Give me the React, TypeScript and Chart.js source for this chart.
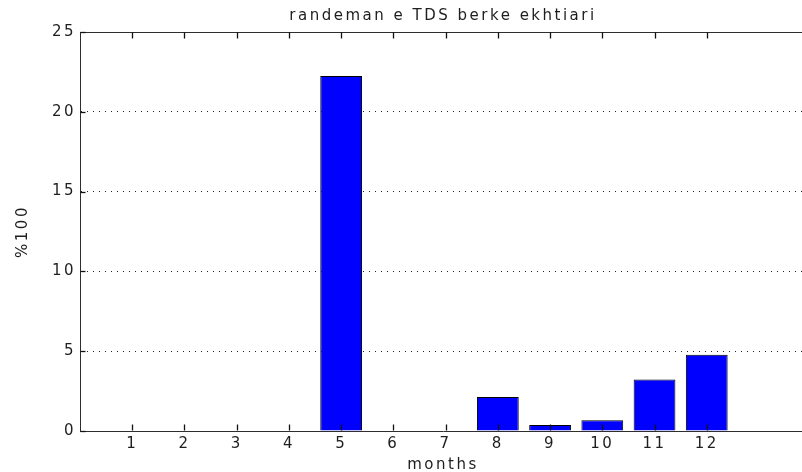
import React, { useEffect, useRef } from "react";
import { Chart, registerables } from "chart.js";

Chart.register(...registerables);

const months: number[] = [1, 2, 3, 4, 5, 6, 7, 8, 9, 10, 11, 12];
const values: number[] = [0, 0, 0, 0, 22.25, 0, 0, 2.13, 0.38, 0.67, 3.23, 4.77];
const yTicks: number[] = [0, 5, 10, 15, 20, 25];
const titleText = "randeman e TDS berke ekhtiari";
const xTitle = "months";
const yTitle = "%100";

const FONT = "'DejaVu Sans', sans-serif";
const AXIS = "#2e2e2e";
const TEXT = "#1e1e1e";

const W = 806;
const H = 480;

const boxPlugin = {
  id: "matlabBox",
  beforeDraw(chart: any) {
    chart.ctx.letterSpacing = "2.5px";
  },
  afterDraw(chart: any) {
    const ctx: CanvasRenderingContext2D = chart.ctx;
    const { left, top, right, bottom } = chart.chartArea;
    const xs = chart.scales.x;
    const ys = chart.scales.y;
    ctx.save();
    ctx.setLineDash([]);
    ctx.strokeStyle = AXIS;
    ctx.lineWidth = 1;
    const ty = Math.round(top) + 0.5;
    const by = Math.round(bottom) - 0.5;
    const lx = Math.round(left) + 0.5;
    const seg = (x1: number, y1: number, x2: number, y2: number) => {
      ctx.beginPath();
      ctx.moveTo(x1, y1);
      ctx.lineTo(x2, y2);
      ctx.stroke();
    };
    seg(left, ty, right, ty);
    ctx.strokeStyle = "#111111";
    ctx.lineWidth = 1.3;
    months.forEach((m) => {
      const px = Math.round(xs.getPixelForValue(m)) + 0.5;
      seg(px, by, px, by - 6);
      seg(px, ty, px, ty + 6);
    });
    yTicks.forEach((v) => {
      const py = Math.round(ys.getPixelForValue(v)) + 0.5;
      seg(lx, py, lx + 5, py);
    });
    ctx.restore();
  },
};

export default function App() {
  const ref = useRef<HTMLCanvasElement | null>(null);

  useEffect(() => {
    if (!ref.current) return;
    const chart = new Chart(ref.current, {
      type: "bar",
      data: {
        datasets: [
          {
            data: months.map((m, i) => ({ x: m, y: values[i] })),
            backgroundColor: "#0000ff",
            borderColor: "#000000",
            borderWidth: 1,
            barPercentage: 0.8,
            categoryPercentage: 1,
          },
        ],
      },
      options: {
        animation: false,
        responsive: false,
        devicePixelRatio: 1,
        layout: { padding: 0 },
        plugins: {
          legend: { display: false },
          tooltip: { enabled: false },
          title: {
            display: true,
            text: titleText,
            fullSize: false,
            color: TEXT,
            font: { family: FONT, size: 15, weight: "normal" },
            padding: { top: 7.4, bottom: 6.6 },
          },
        },
        scales: {
          x: {
            type: "linear",
            min: 0,
            max: 13.9,
            offset: false,
            afterFit: (s: any) => {
              s.height = H - 431;
            },
            afterBuildTicks: (s: any) => {
              s.ticks = months.map((m) => ({ value: m }));
            },
            grid: { display: false, offset: false, drawTicks: false },
            border: { display: true, color: AXIS, width: 1 },
            ticks: {
              autoSkip: false,
              maxRotation: 0,
              padding: 4.3,
              color: TEXT,
              font: { family: FONT, size: 15 },
              callback: (v: any) => String(v),
            },
            title: {
              display: true,
              text: xTitle,
              color: TEXT,
              font: { family: FONT, size: 15 },
              padding: { top: 0, bottom: 6 },
            },
          },
          y: {
            min: 0,
            max: 25,
            afterFit: (s: any) => {
              s.width = 80;
            },
            afterBuildTicks: (s: any) => {
              s.ticks = yTicks.map((v) => ({ value: v }));
            },
            grid: {
              drawTicks: false,
              color: (c: any) =>
                c.tick && c.tick.value > 0 && c.tick.value < 25 ? "#202020" : "rgba(0,0,0,0)",
              lineWidth: 1,
            },
            border: { display: true, color: AXIS, width: 1, dash: [1, 5] },
            ticks: {
              padding: 4,
              color: TEXT,
              font: { family: FONT, size: 15 },
              callback: (v: any) => String(v),
            },
            title: {
              display: true,
              text: yTitle,
              color: TEXT,
              font: { family: FONT, size: 15 },
              padding: { top: 14, bottom: 0 },
            },
          },
        },
      },
      plugins: [boxPlugin],
    });
    return () => chart.destroy();
  }, []);

  return (
    <div
      style={{
        position: "absolute",
        left: 0,
        top: 0,
        width: 802,
        height: 472,
        overflow: "hidden",
        background: "#ffffff",
      }}
    >
      <canvas ref={ref} width={W} height={H} style={{ display: "block", width: W, height: H }} />
    </div>
  );
}
